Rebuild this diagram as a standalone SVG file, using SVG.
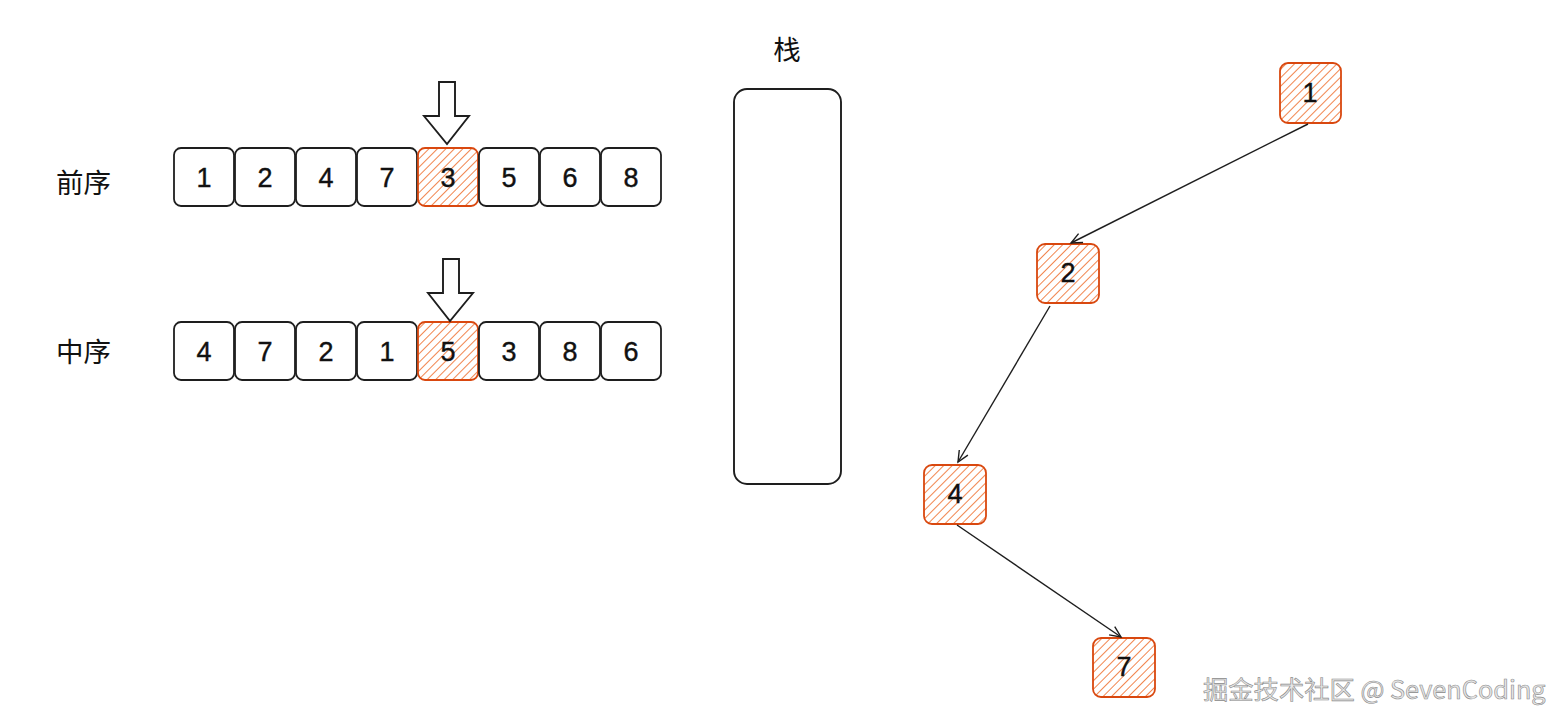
<svg xmlns="http://www.w3.org/2000/svg" width="1567" height="728" viewBox="0 0 1567 728">
<style>
.cell{fill:#fff;stroke:#1e1e1e;stroke-width:1.8}
.hot{fill:url(#hatch);stroke:#d9480f;stroke-width:1.8}
.num{font-family:"Liberation Sans",Arial,sans-serif;font-size:27px;fill:#111;stroke:#111;stroke-width:0.4;text-anchor:middle;dominant-baseline:central}
.lbl{font-family:"Noto Sans CJK SC","Liberation Sans",sans-serif;font-size:27.5px;fill:#111;dominant-baseline:central}
.big{fill:#fff;stroke:#1e1e1e;stroke-width:1.9}
.conn{fill:none;stroke:#1e1e1e;stroke-width:1.4}
.wm{font-family:"Noto Sans CJK SC","Noto Sans",sans-serif;font-size:25.3px;fill:#e6e6e6;stroke:#8a8a8a;stroke-width:0.6}
</style>
<defs>
<pattern id="hatch" patternUnits="userSpaceOnUse" width="6" height="6" patternTransform="rotate(45)">
<rect width="6" height="6" fill="#fff"/>
<line x1="0" y1="0" x2="0" y2="6" stroke="#f0773a" stroke-width="1.8"/>
</pattern>
<marker id="arr" markerUnits="userSpaceOnUse" markerWidth="14" markerHeight="14" refX="12" refY="6" orient="auto">
<path d="M1,1 L12,6 L1,11" fill="none" stroke="#1e1e1e" stroke-width="1.4"/>
</marker>
</defs>
<rect width="1567" height="728" fill="#fff"/>

<g id="label-preorder"><text class="lbl" x="56" y="181">前序</text></g>
<g id="label-inorder"><text class="lbl" x="56" y="350">中序</text></g>

<g id="preorder">
<rect class="cell" x="174" y="148" width="60" height="58" rx="7"/><text class="num" x="204" y="178">1</text>
<rect class="cell" x="235" y="148" width="60" height="58" rx="7"/><text class="num" x="265" y="178">2</text>
<rect class="cell" x="296" y="148" width="60" height="58" rx="7"/><text class="num" x="326" y="178">4</text>
<rect class="cell" x="357" y="148" width="60" height="58" rx="7"/><text class="num" x="387" y="178">7</text>
<rect class="hot" x="418" y="148" width="60" height="58" rx="7"/><text class="num" x="448" y="178">3</text>
<rect class="cell" x="479" y="148" width="60" height="58" rx="7"/><text class="num" x="509" y="178">5</text>
<rect class="cell" x="540" y="148" width="60" height="58" rx="7"/><text class="num" x="570" y="178">6</text>
<rect class="cell" x="601" y="148" width="60" height="58" rx="7"/><text class="num" x="631" y="178">8</text>
</g>

<g id="inorder">
<rect class="cell" x="174" y="322" width="60" height="58" rx="7"/><text class="num" x="204" y="352">4</text>
<rect class="cell" x="235" y="322" width="60" height="58" rx="7"/><text class="num" x="265" y="352">7</text>
<rect class="cell" x="296" y="322" width="60" height="58" rx="7"/><text class="num" x="326" y="352">2</text>
<rect class="cell" x="357" y="322" width="60" height="58" rx="7"/><text class="num" x="387" y="352">1</text>
<rect class="hot" x="418" y="322" width="60" height="58" rx="7"/><text class="num" x="448" y="352">5</text>
<rect class="cell" x="479" y="322" width="60" height="58" rx="7"/><text class="num" x="509" y="352">3</text>
<rect class="cell" x="540" y="322" width="60" height="58" rx="7"/><text class="num" x="570" y="352">8</text>
<rect class="cell" x="601" y="322" width="60" height="58" rx="7"/><text class="num" x="631" y="352">6</text>
</g>

<g id="pointer-pre"><path class="big" d="M439,82 L455,82 L455,116 L469,116 L447,144 L424,116 L439,116 Z"/></g>
<g id="pointer-in"><path class="big" d="M443,259 L459,259 L459,293 L473,293 L450,321 L428,293 L443,293 Z"/></g>

<g id="stack">
<text class="lbl" x="787" y="48" text-anchor="middle">栈</text>
<rect class="big" x="734" y="89" width="107" height="395" rx="13"/>
</g>

<g id="tree-node-1"><rect class="hot" x="1280" y="63" width="61" height="60" rx="8"/><text class="num" x="1310" y="93">1</text></g>
<g id="tree-node-2"><rect class="hot" x="1037" y="244" width="62" height="59" rx="8"/><text class="num" x="1068" y="273">2</text></g>
<g id="tree-node-4"><rect class="hot" x="924" y="465" width="62" height="59" rx="8"/><text class="num" x="955" y="494">4</text></g>
<g id="tree-node-7"><rect class="hot" x="1093" y="638" width="62" height="59" rx="8"/><text class="num" x="1124" y="667">7</text></g>

<g id="connectors">
<line class="conn" x1="1308" y1="124" x2="1071" y2="243" marker-end="url(#arr)"/>
<line class="conn" x1="1050" y1="306" x2="958" y2="462" marker-end="url(#arr)"/>
<line class="conn" x1="957" y1="525" x2="1121" y2="637" marker-end="url(#arr)"/>
</g>

<g id="watermark"><text class="wm" x="1203" y="699">掘金技术社区 @ SevenCoding</text></g>
</svg>
